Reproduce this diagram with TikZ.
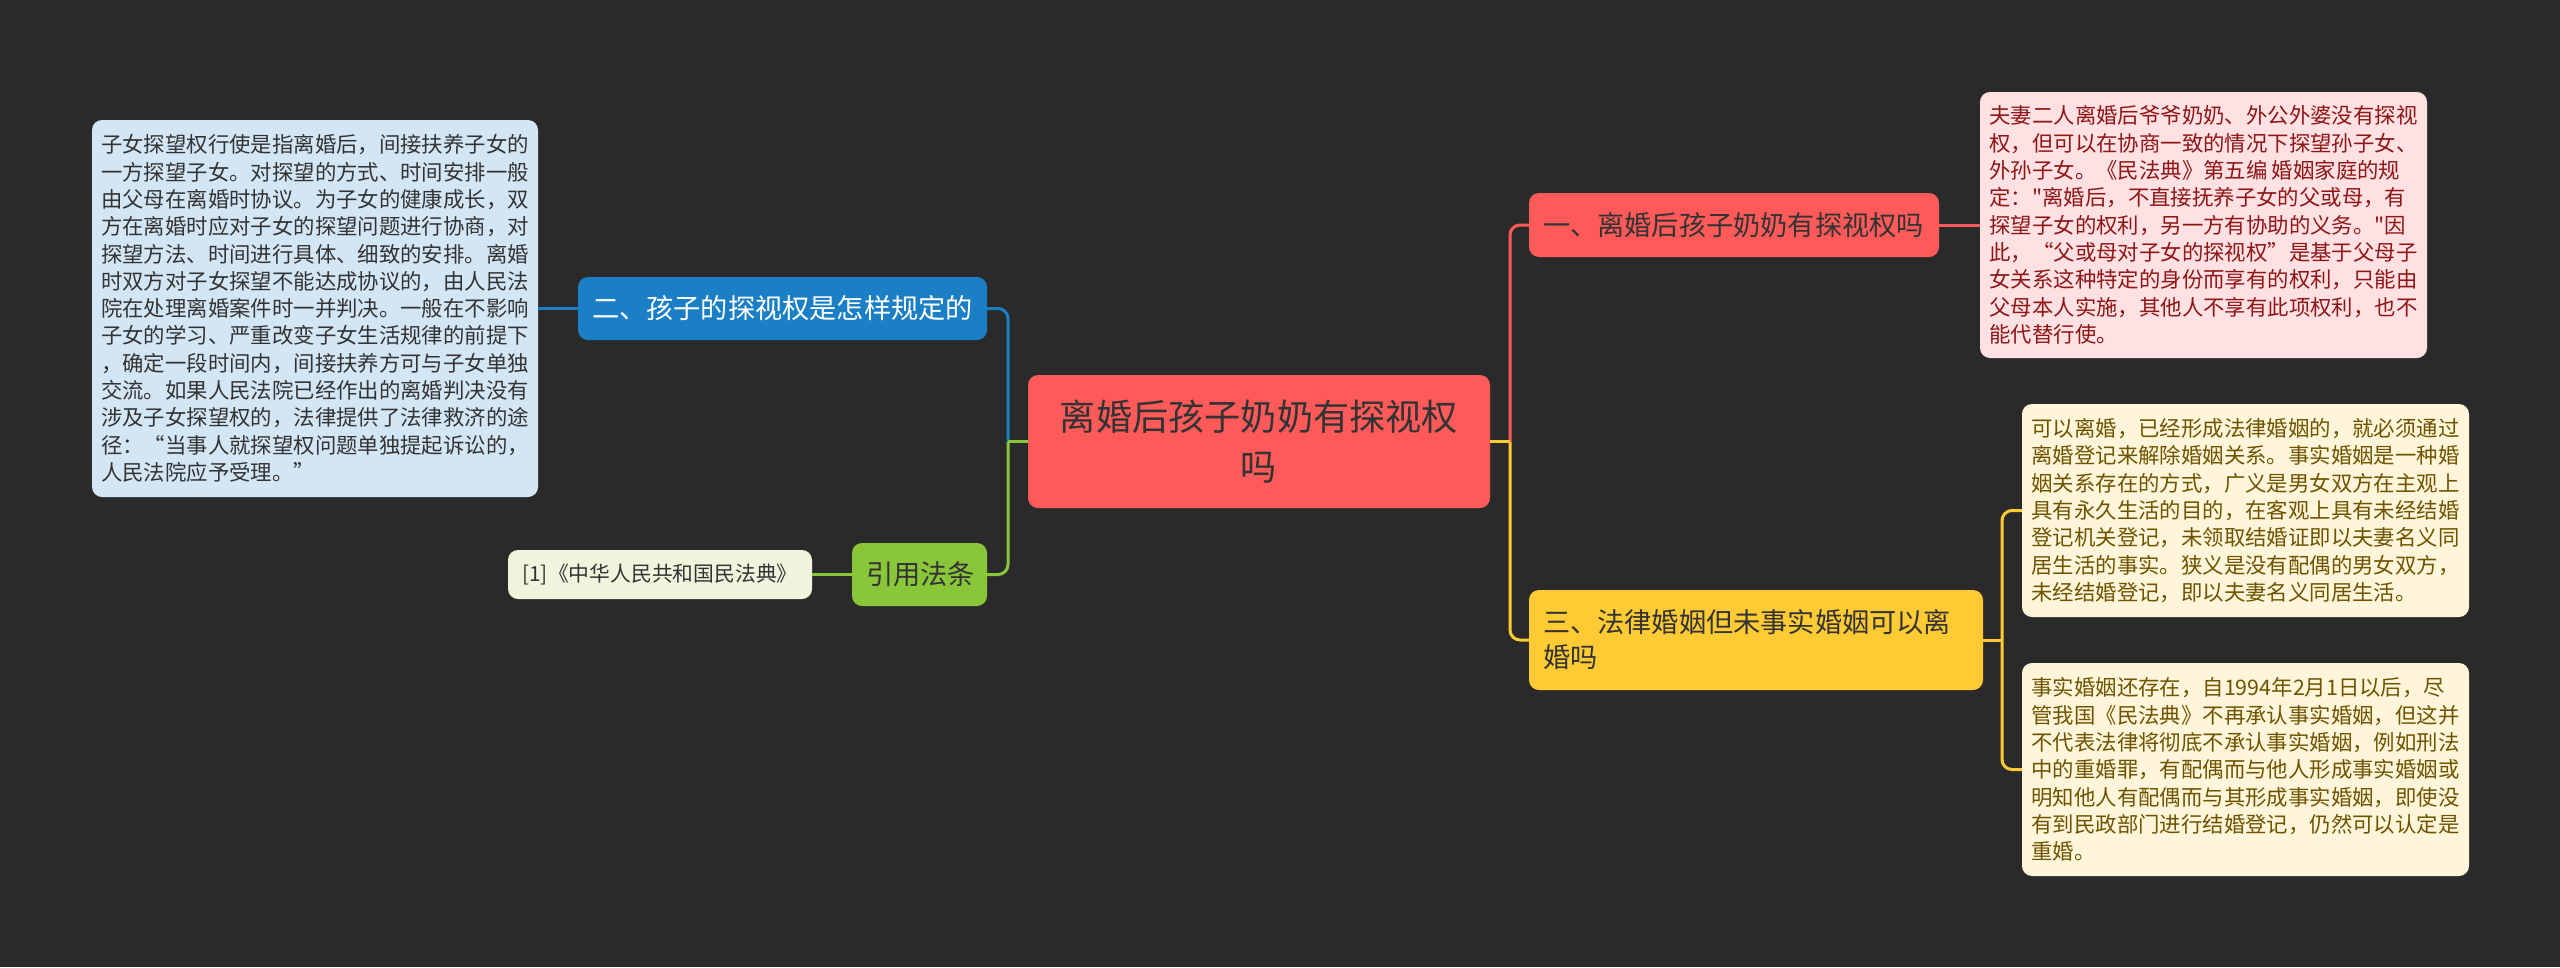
\documentclass[tikz,border=0pt]{standalone}
\usepackage{fontspec}
\setmainfont{Noto Sans CJK SC}[Ligatures=TeXOff]
\definecolor{bg}{HTML}{2A2A2A}
\definecolor{cred}{HTML}{FF5A5A}
\definecolor{cblue}{HTML}{1A7FC4}
\definecolor{cyel}{HTML}{FFCB35}
\definecolor{cgreen}{HTML}{8AC63A}
\definecolor{lpink}{HTML}{FFE1E3}
\definecolor{lcream}{HTML}{FFF5DA}
\definecolor{lblue}{HTML}{D3E6F5}
\definecolor{lgreen}{HTML}{EEF5DC}
\definecolor{tdark}{HTML}{333333}
\definecolor{tred}{HTML}{8E1616}
\definecolor{tolive}{HTML}{6E5400}
\tikzset{
  box/.style={rectangle, rounded corners=10, inner ysep=0pt, align=left},
  leafbox/.style={rectangle, rounded corners=10, inner sep=0pt, align=left,
    font=\fontsize{21.4}{27.3}\selectfont},
  branchtext/.style={font=\fontsize{27.2}{35}\selectfont},
  conn/.style={line width=3pt, rounded corners=10},
}
\begin{document}
\begin{tikzpicture}[x=1pt,y=-1pt]
\useasboundingbox (0,0) rectangle (2560,967);
\fill[bg] (0,0) rectangle (2560,967);

% nodes
\node[box, fill=cred, text=tdark, align=center, text width=430, inner xsep=16, minimum height=133,
  font=\fontsize{36.2}{50}\selectfont] (center) at (1259,441.5) {离婚后孩子奶奶有探视权\\吗};

\node[box, fill=cred, text=tdark, branchtext, text width=382, inner xsep=14, minimum height=64] (b1) at (1734,225) {一、离婚后孩子奶奶有探视权吗};
\node[box, fill=cyel, text=tdark, branchtext, text width=426, inner xsep=14, minimum height=100] (b3) at (1756,640) {三、法律婚姻但未事实婚姻可以离\\婚吗};
\node[box, fill=cblue, text=white, branchtext, text width=381, inner xsep=14, minimum height=63] (b2) at (782.5,308.5) {二、孩子的探视权是怎样规定的};
\node[box, fill=cgreen, text=tdark, branchtext, text width=107, inner xsep=14, minimum height=63] (b4) at (919.5,574.5) {引用法条};

\node[leafbox, fill=lpink, text=tred, minimum width=447, minimum height=266] (l1) at (2203.5,225) {夫妻二人离婚后爷爷奶奶、外公外婆没有探视\\权，但可以在协商一致的情况下探望孙子女、\\外孙子女。《民法典》第五编\hspace{0.2em}婚姻家庭的规\\定："离婚后，不直接抚养子女的父或母，有\\探望子女的权利，另一方有协助的义务。"因\\此，“父或母对子女的探视权”是基于父母子\\女关系这种特定的身份而享有的权利，只能由\\父母本人实施，其他人不享有此项权利，也不\\能代替行使。};

\node[leafbox, fill=lcream, text=tolive, minimum width=447, minimum height=213] (l2) at (2245.5,510.5) {可以离婚，已经形成法律婚姻的，就必须通过\\离婚登记来解除婚姻关系。事实婚姻是一种婚\\姻关系存在的方式，广义是男女双方在主观上\\具有永久生活的目的，在客观上具有未经结婚\\登记机关登记，未领取结婚证即以夫妻名义同\\居生活的事实。狭义是没有配偶的男女双方，\\未经结婚登记，即以夫妻名义同居生活。};

\node[leafbox, fill=lcream, text=tolive, minimum width=447, minimum height=213] (l3) at (2245.5,769.5) {事实婚姻还存在，自1994年2月1日以后，尽\\管我国《民法典》不再承认事实婚姻，但这并\\不代表法律将彻底不承认事实婚姻，例如刑法\\中的重婚罪，有配偶而与他人形成事实婚姻或\\明知他人有配偶而与其形成事实婚姻，即使没\\有到民政部门进行结婚登记，仍然可以认定是\\重婚。};

\node[leafbox, fill=lblue, text=tdark, minimum width=446, minimum height=377] (l0) at (315,308.5) {子女探望权行使是指离婚后，间接扶养子女的\\一方探望子女。对探望的方式、时间安排一般\\由父母在离婚时协议。为子女的健康成长，双\\方在离婚时应对子女的探望问题进行协商，对\\探望方法、时间进行具体、细致的安排。离婚\\时双方对子女探望不能达成协议的，由人民法\\院在处理离婚案件时一并判决。一般在不影响\\子女的学习、严重改变子女生活规律的前提下\\，确定一段时间内，间接扶养方可与子女单独\\交流。如果人民法院已经作出的离婚判决没有\\涉及子女探望权的，法律提供了法律救济的途\\径：“当事人就探望权问题单独提起诉讼的，\\人民法院应予受理。”};

\node[leafbox, fill=lgreen, text=tdark, align=center, font=\fontsize{20.8}{26}\selectfont, minimum width=304, minimum height=49] (l4) at (660,574.5) {[1]《中华人民共和国民法典》};

% junctions
\coordinate (jl) at (1008,441.5);
\coordinate (jr) at (1510,441.5);
\coordinate (j3) at (2002,640);

% connectors left
\draw[conn, cblue] (jl) |- (b2.east);
\draw[conn, cgreen] (jl) |- (b4.east);
\draw[conn, cgreen] (center.west) -- (jl);
\draw[conn, cblue] (l0.east |- b2.west) -- (b2.west);
\draw[conn, cgreen] (l4.east) -- (b4.west);

% connectors right
\draw[conn, cred] (jr) |- (b1.west);
\draw[conn, cyel] (jr) |- (b3.west);
\draw[conn, cyel] (center.east) -- (jr);
\draw[conn, cred] (b1.east) -- (l1.west);
\draw[conn, cyel] (b3.east) -- (j3);
\draw[conn, cyel] (j3) |- (l2.west);
\draw[conn, cyel] (j3) |- (l3.west);
\end{tikzpicture}
\end{document}
